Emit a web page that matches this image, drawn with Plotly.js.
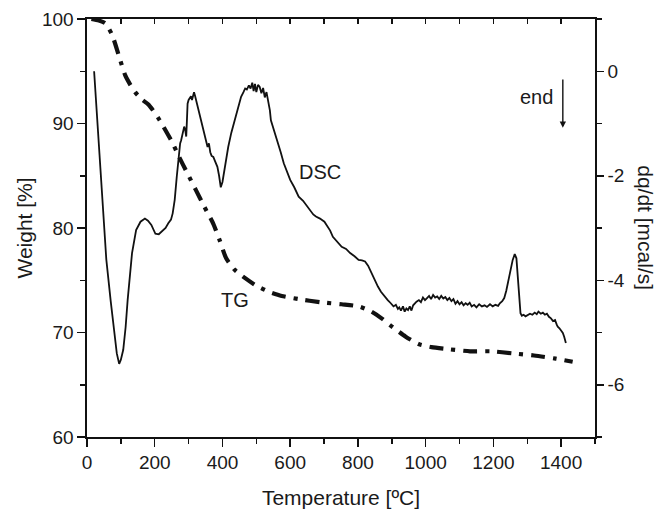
<!DOCTYPE html>
<html>
<head>
<meta charset="utf-8">
<script src="https://cdn.plot.ly/plotly-3.0.1.min.js"></script>
<style>html,body{margin:0;padding:0;background:#fff;}#chart{width:669px;height:511px;}</style>
</head>
<body>
<div id="chart"></div>
<script>
// DSC curve: temperature (ºC) and heat flow dq/dt (mcal/s), right axis
var dscT = [21, 31, 44, 57, 70, 78, 88, 95, 100, 107, 114, 120, 133, 145, 158, 171, 180, 190, 202, 212, 221, 232, 240, 248, 253, 259, 265, 272, 275, 278, 283, 287, 290, 293, 295, 297, 300, 303, 307, 310, 313, 316, 319, 322, 328, 335, 341, 347, 352, 356, 360, 364, 368, 373, 378, 382, 385, 390, 395, 400, 404, 410, 417, 426, 436, 446, 455, 462, 467, 472, 478, 483, 488, 492, 496, 500, 505, 510, 515, 520, 525, 530, 535, 540, 543, 552, 562, 572, 581, 590, 600, 612, 625, 638, 651, 660, 668, 676, 688, 701, 710, 718, 726, 740, 752, 765, 777, 790, 802, 812, 821, 830, 840, 850, 859, 868, 878, 888, 897, 905, 912, 918, 922, 927, 933, 938, 943, 948, 953, 958, 963, 968, 973, 980, 986, 992, 998, 1004, 1010, 1016, 1022, 1028, 1034, 1040, 1046, 1052, 1058, 1064, 1070, 1076, 1082, 1088, 1094, 1100, 1106, 1112, 1118, 1124, 1130, 1136, 1143, 1150, 1158, 1166, 1174, 1181, 1190, 1198, 1206, 1214, 1219, 1226, 1232, 1238, 1244, 1251, 1257, 1263, 1268, 1272, 1276, 1280, 1284, 1289, 1295, 1301, 1308, 1315, 1322, 1328, 1333, 1340, 1346, 1352, 1358, 1364, 1370, 1376, 1382, 1387, 1390, 1395, 1400, 1405, 1409, 1414, 1419, 1424, 1428, 1433, 1438];
var dscV = [0.0, -1.0, -2.47, -3.6, -4.4, -4.89, -5.4, -5.6, -5.52, -5.33, -4.9, -4.38, -3.48, -3.04, -2.88, -2.82, -2.86, -2.94, -3.11, -3.12, -3.07, -3.0, -2.91, -2.84, -2.72, -2.46, -2.02, -1.50, -1.38, -1.32, -1.15, -1.06, -1.12, -1.25, -0.95, -0.62, -0.55, -0.52, -0.48, -0.55, -0.45, -0.40, -0.47, -0.55, -0.70, -0.87, -1.02, -1.19, -1.30, -1.45, -1.38, -1.55, -1.62, -1.64, -1.72, -1.78, -1.83, -2.00, -2.22, -2.12, -1.96, -1.72, -1.45, -1.18, -0.94, -0.70, -0.49, -0.40, -0.33, -0.35, -0.27, -0.33, -0.22, -0.38, -0.24, -0.40, -0.26, -0.30, -0.42, -0.32, -0.50, -0.40, -0.55, -0.75, -0.94, -1.12, -1.32, -1.55, -1.76, -1.90, -2.08, -2.22, -2.40, -2.48, -2.59, -2.68, -2.74, -2.78, -2.82, -2.88, -2.96, -3.05, -3.17, -3.28, -3.36, -3.40, -3.48, -3.54, -3.61, -3.62, -3.64, -3.72, -3.87, -4.00, -4.12, -4.22, -4.31, -4.38, -4.44, -4.50, -4.47, -4.55, -4.52, -4.58, -4.50, -4.60, -4.54, -4.57, -4.50, -4.58, -4.48, -4.44, -4.41, -4.38, -4.42, -4.33, -4.38, -4.34, -4.30, -4.36, -4.28, -4.33, -4.31, -4.36, -4.30, -4.35, -4.32, -4.38, -4.34, -4.40, -4.36, -4.45, -4.40, -4.46, -4.42, -4.48, -4.44, -4.47, -4.43, -4.50, -4.47, -4.52, -4.46, -4.50, -4.48, -4.51, -4.46, -4.50, -4.47, -4.49, -4.44, -4.40, -4.34, -4.20, -3.99, -3.80, -3.61, -3.50, -3.58, -3.93, -4.40, -4.63, -4.68, -4.66, -4.69, -4.67, -4.64, -4.66, -4.62, -4.65, -4.60, -4.64, -4.62, -4.66, -4.64, -4.70, -4.73, -4.78, -4.76, -4.85, -4.89, -4.92, -4.97, -5.01, -5.08, -5.20];

// TG curve: temperature (ºC) and weight (%), left axis
var tgT = [13, 35, 54, 74, 93, 113, 128, 142, 162, 182, 211, 250, 272, 297, 322, 347, 373, 392, 411, 436, 467, 499, 537, 575, 625, 689, 752, 802, 840, 872, 903, 941, 979, 1017, 1068, 1131, 1194, 1257, 1320, 1384, 1434];
var tgW = [100.0, 99.85, 99.6, 98.5, 96.6, 94.6, 93.7, 93.0, 92.3, 91.8, 90.5, 88.3, 86.8, 85.2, 83.6, 82.0, 80.4, 78.8, 77.1, 76.0, 75.2, 74.5, 73.9, 73.5, 73.2, 72.9, 72.7, 72.5, 72.0, 71.3, 70.5, 69.6, 68.9, 68.6, 68.4, 68.2, 68.2, 68.0, 67.8, 67.5, 67.2];

// Axis ticks
var xTickVals = [0, 200, 400, 600, 800, 1000, 1200, 1400];
var yTickVals = [60, 70, 80, 90, 100];
var y2TickVals = [0, -2, -4, -6];
var y2TickText = ['0', '-2', '-4', '-6'];

var FONT = 'Liberation Sans, Arial, Helvetica, sans-serif';
var TXT = '#1a1a1a';

var traces = [
  {x: dscT, y: dscV, xaxis: 'x', yaxis: 'y2', mode: 'lines', name: 'DSC',
   line: {color: '#111', width: 1.8}, hoverinfo: 'skip'},
  {x: tgT, y: tgW, xaxis: 'x', yaxis: 'y', mode: 'lines', name: 'TG',
   line: {color: '#111', width: 4.2, dash: '14px,8px,4px,8px', shape: 'spline', smoothing: 0.6}, hoverinfo: 'skip'},
  {x: [], y: [], xaxis: 'x2', yaxis: 'y', mode: 'lines', showlegend: false, hoverinfo: 'skip'}
];

var axLine = {showline: true, linecolor: '#111', linewidth: 1.6, showgrid: false, zeroline: false};

var layout = {
  width: 669, height: 511,
  margin: {l: 87, r: 74, t: 19, b: 74, pad: 0},
  paper_bgcolor: '#fff', plot_bgcolor: '#fff',
  showlegend: false,
  font: {family: FONT, color: TXT, size: 19},
  xaxis: Object.assign({}, axLine, {
    range: [0, 1500], tickmode: 'array', tickvals: xTickVals,
    ticks: 'outside', ticklen: 8, tickwidth: 1.5, tickcolor: '#111',
    minor: {dtick: 100, tick0: 0, ticks: 'outside', ticklen: 5, tickwidth: 1.5, tickcolor: '#111'},
    tickfont: {family: FONT, size: 19, color: TXT},
    title: {text: 'Temperature [ºC]', font: {family: FONT, size: 21, color: TXT}, standoff: 18},
    automargin: false
  }),
  xaxis2: Object.assign({}, axLine, {
    range: [0, 1500], overlaying: 'x', side: 'top', anchor: 'y',
    tickmode: 'linear', tick0: 0, dtick: 100,
    ticks: 'inside', ticklen: 5, tickwidth: 1.5, tickcolor: '#111',
    showticklabels: false, automargin: false
  }),
  yaxis: Object.assign({}, axLine, {
    range: [60, 100], tickmode: 'array', tickvals: yTickVals,
    ticks: 'outside', ticklen: 8, tickwidth: 1.5, tickcolor: '#111',
    minor: {dtick: 5, tick0: 60, ticks: 'outside', ticklen: 5, tickwidth: 1.5, tickcolor: '#111'},
    tickfont: {family: FONT, size: 19, color: TXT},
    title: {text: 'Weight [%]', font: {family: FONT, size: 21, color: TXT}, standoff: 3},
    automargin: false
  }),
  yaxis2: Object.assign({}, axLine, {
    range: [-7, 1], overlaying: 'y', side: 'right', anchor: 'x',
    tickmode: 'array', tickvals: y2TickVals, ticktext: y2TickText,
    ticks: 'outside', ticklen: 7, tickwidth: 1.5, tickcolor: '#111',
    minor: {dtick: 1, tick0: 0, ticks: 'outside', ticklen: 5, tickwidth: 1.5, tickcolor: '#111'},
    tickfont: {family: FONT, size: 19, color: TXT},
    automargin: false
  }),
  annotations: [
    {text: 'DSC', x: 689, y: -1.92, xref: 'x', yref: 'y2', showarrow: false,
     font: {family: FONT, size: 20, color: TXT}},
    {text: 'TG', x: 436, y: 73.1, xref: 'x', yref: 'y', showarrow: false,
     font: {family: FONT, size: 20, color: TXT}},
    {text: 'end', x: 1327, y: -0.50, xref: 'x', yref: 'y2', showarrow: false,
     font: {family: FONT, size: 20, color: TXT}},
    {text: '', x: 1405, y: -1.08, xref: 'x', yref: 'y2', ax: 1405, ay: -0.13, axref: 'x', ayref: 'y2',
     showarrow: true, arrowhead: 2, arrowsize: 0.9, arrowwidth: 1.4, arrowcolor: '#111'},
    {text: 'dq/dt [mcal/s]', xref: 'paper', yref: 'paper', x: 1.1, y: 0.5, textangle: 90,
     showarrow: false, xanchor: 'center', yanchor: 'middle',
     font: {family: FONT, size: 21, color: TXT}}
  ]
};

Plotly.newPlot('chart', traces, layout, {staticPlot: true, displayModeBar: false});
</script>
</body>
</html>
